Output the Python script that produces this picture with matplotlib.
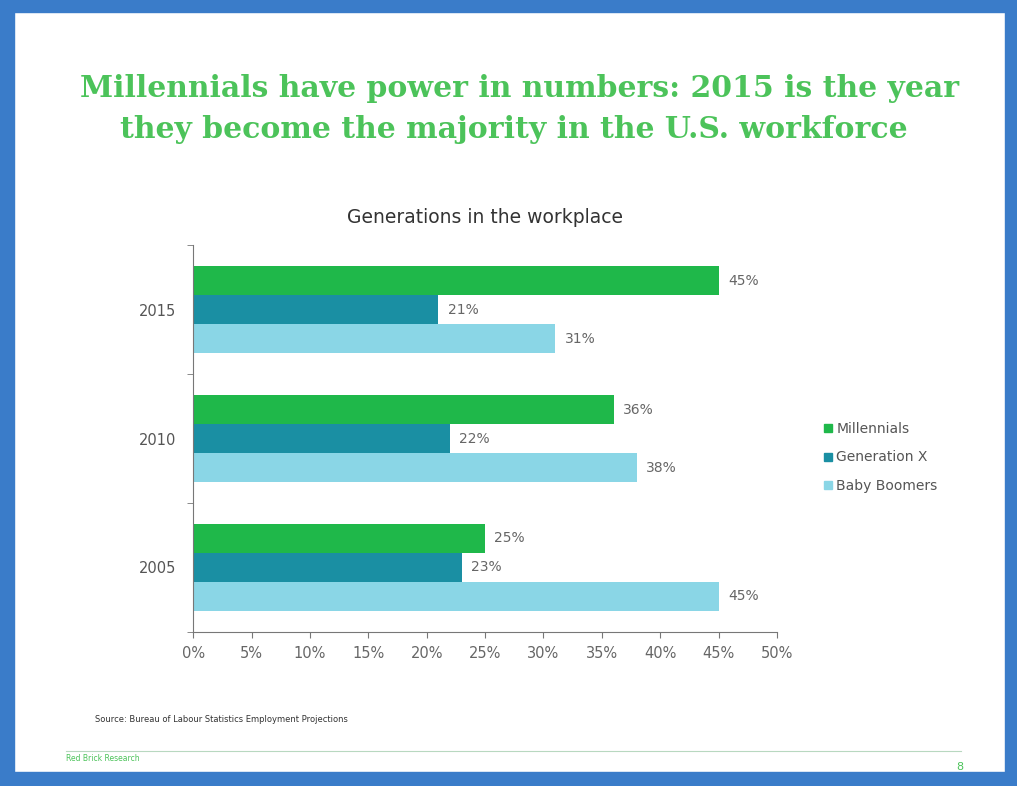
import matplotlib.pyplot as plt
import numpy as np
from matplotlib.patches import Rectangle
from matplotlib.lines import Line2D

years = ["2005", "2010", "2015"]
millennials = [25, 36, 45]
gen_x = [23, 22, 21]
boomers = [45, 38, 31]
series_names = ["Millennials", "Generation X", "Baby Boomers"]
colors = ["#1fb84a", "#1a8fa3", "#8ad6e6"]
xticks = [0, 5, 10, 15, 20, 25, 30, 35, 40, 45, 50]

fig = plt.figure(figsize=(10.17, 7.86), dpi=100)
fig.patch.set_facecolor("white")

# blue slide frame (photo of a slide)
blue = "#3a7cc9"
fig.add_artist(Rectangle((0, 0), 1, 0.018, transform=fig.transFigure, color=blue, zorder=0))
fig.add_artist(Rectangle((0, 0.985), 1, 0.015, transform=fig.transFigure, color=blue, zorder=0))
fig.add_artist(Rectangle((0, 0), 0.014, 1, transform=fig.transFigure, color=blue, zorder=0))
fig.add_artist(Rectangle((0.988, 0), 0.012, 1, transform=fig.transFigure, color=blue, zorder=0))

# headline
fig.text(0.511, 0.888, "Millennials have power in numbers: 2015 is the year",
         ha="center", va="center", fontsize=21.5, color="#4cc35a",
         family="DejaVu Serif", fontweight="bold")
fig.text(0.505, 0.835, "they become the majority in the U.S. workforce",
         ha="center", va="center", fontsize=21.5, color="#4cc35a",
         family="DejaVu Serif", fontweight="bold")

ax = fig.add_axes([0.19, 0.196, 0.574, 0.492])
y = np.arange(len(years))
h = 0.225
data = [millennials, gen_x, boomers]
offsets = [h, 0, -h]
for vals, off, c, name in zip(data, offsets, colors, series_names):
    ax.barh(y + off, vals, height=h, color=c, label=name)
    for yi, v in zip(y, vals):
        ax.text(v + 0.8, yi + off, f"{v}%", va="center", ha="left",
                fontsize=10, color="#666666")

ax.set_xlim(0, 50)
ax.set_ylim(-0.5, 2.5)
ax.set_xticks(xticks)
ax.set_xticklabels([f"{t}%" for t in xticks], fontsize=10.5, color="#666666")
ax.set_yticks(y)
ax.set_yticklabels(years, fontsize=10.5, color="#555555")
ax.set_yticks([-0.5, 0.5, 1.5, 2.5], minor=True)
ax.tick_params(axis="y", which="major", length=0, pad=12)
ax.tick_params(axis="y", which="minor", length=4, color="#777777")
ax.tick_params(axis="x", length=4, color="#777777", pad=6)
for s in ["top", "right"]:
    ax.spines[s].set_visible(False)
ax.spines["left"].set_color("#777777")
ax.spines["bottom"].set_color("#777777")
ax.set_title("Generations in the workplace", fontsize=13.5, color="#333333", pad=16)

handles = [Line2D([], [], marker="s", linestyle="", color=c, markersize=6)
           for c in colors]
fig.legend(handles, series_names, loc="center left", bbox_to_anchor=(0.795, 0.418),
           frameon=False, fontsize=10, labelcolor="#555555",
           handletextpad=0.1, labelspacing=1.05, handlelength=1.0)

fig.text(0.093, 0.085, "Source: Bureau of Labour Statistics Employment Projections",
         fontsize=6, color="#333333", va="center")
fig.add_artist(Line2D([0.065, 0.945], [0.045, 0.045], transform=fig.transFigure,
                      color="#b8d8c0", lw=0.8))
fig.text(0.065, 0.035, "Red Brick Research", fontsize=5.5, color="#4cc35a", va="center")
fig.text(0.94, 0.024, "8", fontsize=8, color="#4cc35a", va="center")

fig.savefig("out.png", dpi=100)
